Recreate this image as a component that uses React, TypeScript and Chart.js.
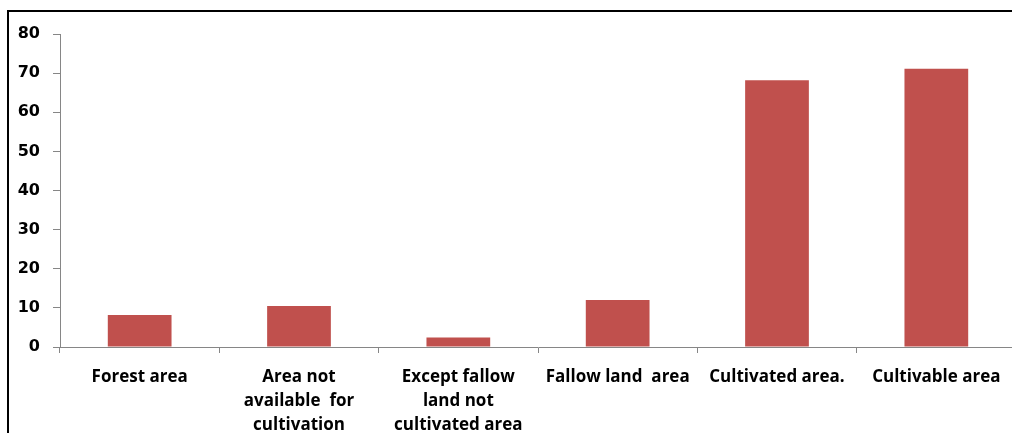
import React, { useEffect, useRef } from "react";
import { Chart, registerables } from "chart.js";

Chart.register(...registerables);

const categories: (string | string[])[] = [
  "Forest area",
  ["Area not", "available  for", "cultivation"],
  ["Except fallow", "land not", "cultivated area"],
  "Fallow land  area",
  "Cultivated area.",
  "Cultivable area",
];
const values: number[] = [8.2, 10.5, 2.4, 12, 68.2, 71.1];
const yMin = 0;
const yMax = 80;
const yStep = 10;

export default function App() {
  const ref = useRef<HTMLCanvasElement | null>(null);

  useEffect(() => {
    if (!ref.current) return;
    const chart = new Chart(ref.current, {
      type: "bar",
      data: {
        labels: categories,
        datasets: [
          {
            data: values,
            backgroundColor: "#C0504D",
            categoryPercentage: 1,
            barPercentage: 0.4,
          },
        ],
      },
      options: {
        animation: false,
        responsive: false,
        maintainAspectRatio: false,
        layout: { padding: { top: 34, left: 0, right: 2, bottom: 0 } },
        plugins: { legend: { display: false }, tooltip: { enabled: false } },
        scales: {
          x: {
            offset: true,
            grid: {
              offset: true,
              drawOnChartArea: false,
              color: "#868686",
              tickLength: 6,
            },
            border: { display: true, color: "#868686", width: 1 },
            ticks: {
              color: "#000",
              padding: 12,
              maxRotation: 0,
              autoSkip: false,
              font: { family: "'Open Sans'", size: 17, weight: "bold", lineHeight: "24px" },
            },
            afterFit: (scale: any) => {
              scale.height = 86;
            },
          },
          y: {
            min: yMin,
            max: yMax,
            ticks: {
              stepSize: yStep,
              color: "#000",
              padding: 13,
              font: { family: "'DejaVu Sans'", size: 16, weight: "bold" },
            },
            grid: {
              drawOnChartArea: false,
              color: "#868686",
              tickLength: 7,
            },
            border: { display: true, color: "#868686", width: 1 },
            afterFit: (scale: any) => {
              scale.width = 60;
            },
          },
        },
      },
    });
    return () => chart.destroy();
  }, []);

  return (
    <div
      style={{
        position: "fixed",
        left: 0,
        top: 0,
        width: 1012,
        height: 433,
        overflow: "hidden",
        background: "#fff",
      }}
    >
      <canvas
        ref={ref}
        width={1018}
        height={433}
        style={{ position: "absolute", left: 0, top: 0, width: 1018, height: 433 }}
      />
      <div
        style={{
          position: "absolute",
          left: 7,
          top: 10,
          right: -10,
          bottom: -10,
          borderTop: "2px solid #000",
          borderLeft: "2px solid #000",
          pointerEvents: "none",
        }}
      />
    </div>
  );
}
